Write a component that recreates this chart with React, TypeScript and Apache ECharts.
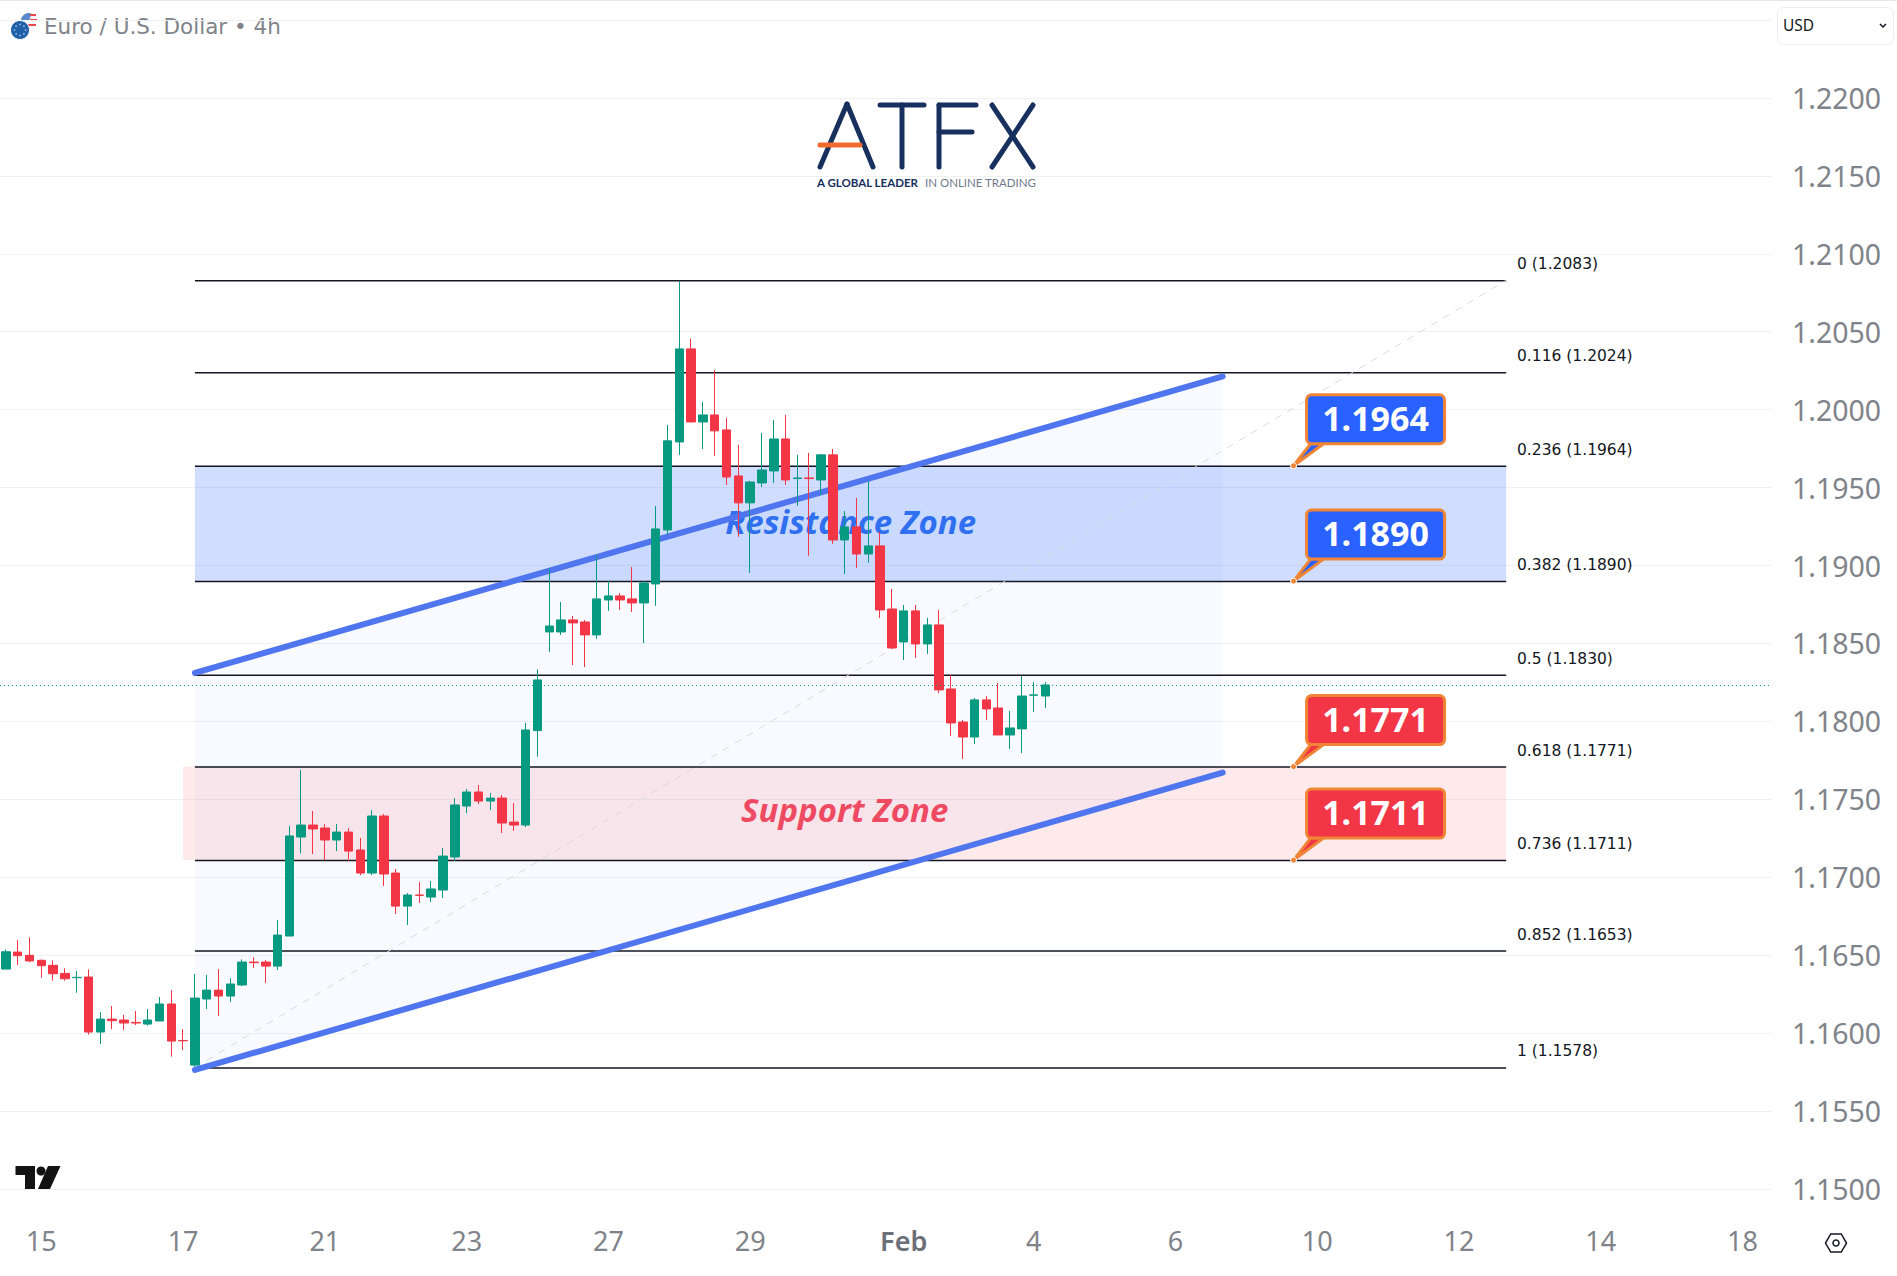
import React, { useEffect, useRef } from 'react';
import * as echarts from 'echarts';

// EUR/USD 4h candles
const opens = [
  1.16411, 1.1652, 1.16499, 1.16467, 1.16435, 1.16383, 1.16356, 1.1636, 1.16007, 1.1609,
  1.16084, 1.16069, 1.16058, 1.16078, 1.16187, 1.15953, 1.15795, 1.16219, 1.16276, 1.16238,
  1.16309, 1.16456, 1.16456, 1.1643, 1.16623, 1.17258, 1.17335, 1.17316, 1.17239, 1.1729,
  1.17175, 1.17027, 1.17393, 1.17027, 1.16815, 1.16886, 1.16873, 1.16918, 1.1713, 1.17457,
  1.17547, 1.17489, 1.17508, 1.17354, 1.17335, 1.17941, 1.18574, 1.18574, 1.18651, 1.18638,
  1.18555, 1.18779, 1.18805, 1.18786, 1.1876, 1.18882, 1.19228, 1.19793, 1.2039, 1.19921,
  1.19966, 1.1987, 1.19575, 1.19402, 1.1953, 1.19607, 1.19812, 1.19558, 1.19562, 1.19549,
  1.1971, 1.19164, 1.19248, 1.19074, 1.19126, 1.18721, 1.1851, 1.18709, 1.18497, 1.18619,
  1.18208, 1.17996, 1.179, 1.18138, 1.18086, 1.17913, 1.17952, 1.18168, 1.18163,
];
const closes = [
  1.16522, 1.16497, 1.16463, 1.16433, 1.16381, 1.16349, 1.16358, 1.16007, 1.1609, 1.1608,
  1.16065, 1.16065, 1.16084, 1.16187, 1.15949, 1.15951, 1.16225, 1.16276, 1.16238, 1.16315,
  1.16456, 1.16452, 1.1643, 1.16629, 1.17265, 1.17335, 1.1731, 1.17239, 1.1729, 1.17168,
  1.17027, 1.17393, 1.17021, 1.16815, 1.16886, 1.16884, 1.16925, 1.17136, 1.17464, 1.17547,
  1.17489, 1.17508, 1.17348, 1.17335, 1.17945, 1.18266, 1.18612, 1.18651, 1.18632, 1.18555,
  1.18786, 1.18805, 1.18779, 1.1876, 1.18888, 1.19235, 1.198, 1.2039, 1.19921, 1.19966,
  1.19864, 1.19568, 1.19402, 1.19536, 1.19613, 1.19812, 1.19549, 1.19562, 1.19558, 1.1971,
  1.19164, 1.19248, 1.19074, 1.19126, 1.18715, 1.18471, 1.18709, 1.18497, 1.18619, 1.18202,
  1.1799, 1.179, 1.18138, 1.1808, 1.17913, 1.17958, 1.18163, 1.1817, 1.18234,
];
const lows = [
  1.16411, 1.16437, 1.16456, 1.16356, 1.16336, 1.16336, 1.16259, 1.1599, 1.1593, 1.16026,
  1.1602, 1.16052, 1.16048, 1.16078, 1.15849, 1.15892, 1.15784, 1.16155, 1.1611, 1.16199,
  1.16302, 1.16418, 1.16321, 1.16405, 1.16623, 1.17153, 1.17149, 1.17111, 1.17168, 1.17104,
  1.17014, 1.17014, 1.16944, 1.16764, 1.16693, 1.16835, 1.16841, 1.16867, 1.17104, 1.17412,
  1.1747, 1.17431, 1.17284, 1.17297, 1.17322, 1.17774, 1.18446, 1.18555, 1.18362, 1.18349,
  1.18529, 1.18709, 1.18715, 1.18702, 1.18503, 1.18741, 1.19196, 1.1971, 1.19921, 1.19748,
  1.19703, 1.19517, 1.19184, 1.18952, 1.19504, 1.1953, 1.19517, 1.19382, 1.19062, 1.19453,
  1.19139, 1.18946, 1.18985, 1.19017, 1.18664, 1.18465, 1.18394, 1.18407, 1.18433, 1.18182,
  1.17906, 1.17759, 1.17855, 1.18009, 1.17913, 1.17823, 1.17797, 1.18061, 1.18086,
];
const highs = [
  1.16537, 1.16597, 1.16614, 1.16473, 1.16467, 1.16416, 1.16398, 1.16409, 1.16135, 1.16174,
  1.16116, 1.16142, 1.16155, 1.16232, 1.16276, 1.16026, 1.16379, 1.16373, 1.16411, 1.16353,
  1.16473, 1.16488, 1.16469, 1.16726, 1.17329, 1.17688, 1.17425, 1.17342, 1.17342, 1.17316,
  1.17252, 1.17431, 1.17406, 1.17053, 1.16899, 1.16969, 1.16976, 1.17188, 1.17508, 1.17566,
  1.17592, 1.17541, 1.17528, 1.17476, 1.1799, 1.18334, 1.18982, 1.18766, 1.18677, 1.18651,
  1.19068, 1.18901, 1.18824, 1.18991, 1.18901, 1.19382, 1.19902, 1.20824, 1.20454, 1.2005,
  1.20255, 1.19947, 1.19774, 1.19543, 1.19851, 1.19934, 1.19966, 1.1971, 1.19723, 1.19716,
  1.19748, 1.1935, 1.19434, 1.19543, 1.19216, 1.1885, 1.18747, 1.18747, 1.18664, 1.18715,
  1.18298, 1.18009, 1.1815, 1.18163, 1.18247, 1.18067, 1.18292, 1.18253, 1.18253,
];
const lastPrice = 1.18232;

const slotCount = 150;
const tickSlots = [3, 15, 27, 39, 51, 63, 76, 87, 99, 111, 123, 135, 147];
const tickLabels = ['15', '17', '21', '23', '27', '29', 'Feb', '4', '6', '10', '12', '14', '18'];

const fibRatios = ['0', '0.116', '0.236', '0.382', '0.5', '0.618', '0.736', '0.852', '1'];
const fibPrices = [1.2083, 1.2024, 1.1964, 1.189, 1.183, 1.1771, 1.1711, 1.1653, 1.1578];
const fibStart = 16;
const fibEnd = 127;

const upperChannel = [[16, 1.18311], [103, 1.20213]];
const lowerChannel = [[16, 1.15764], [103, 1.17672]];

const resistanceZone = [1.1964, 1.189];
const supportZone = [1.1771, 1.1711];

const calloutPrices = [1.1964, 1.189, 1.1771, 1.1711];
const calloutFills = ['#2962ff', '#2962ff', '#f23645', '#f23645'];
const calloutSlot = 109;

const UP = '#089981';
const DOWN = '#f23645';
const ORANGE = '#ef8535';
const NAVY = '#17305e';

const slots = Array.from({ length: slotCount }, (_, i) => {
  const at = tickSlots.indexOf(i);
  return at >= 0 ? tickLabels[at] : String(i);
});

function logoLine(x1: number, y1: number, x2: number, y2: number, stroke = NAVY) {
  return {
    type: 'line',
    shape: { x1, y1, x2, y2 },
    style: { stroke, lineWidth: 5, lineCap: 'round' },
  };
}

export default function App() {
  const elRef = useRef<HTMLDivElement | null>(null);

  useEffect(() => {
    if (!elRef.current) return;
    document.body.style.margin = '0';
    const chart = echarts.init(elRef.current, null, { renderer: 'svg' });

    const zones = {
      type: 'custom',
      z: 1,
      silent: true,
      data: [[0, 0]],
      renderItem: (_p: any, api: any) => {
        const [lx, ty1] = api.coord([fibStart, resistanceZone[0]]);
        const [rx, by1] = api.coord([fibEnd, resistanceZone[1]]);
        const [sx, ty2] = api.coord([15, supportZone[0]]);
        const by2 = api.coord([15, supportZone[1]])[1];
        const u0 = api.coord(upperChannel[0]);
        const u1 = api.coord(upperChannel[1]);
        const l0 = api.coord(lowerChannel[0]);
        const l1 = api.coord(lowerChannel[1]);
        return {
          type: 'group',
          children: [
            {
              type: 'polygon',
              shape: { points: [u0, u1, l1, l0] },
              style: { fill: 'rgba(41,98,255,0.03)' },
            },
            {
              type: 'rect',
              shape: { x: lx, y: ty1, width: rx - lx, height: by1 - ty1 },
              style: { fill: 'rgba(41,98,255,0.22)' },
            },
            {
              type: 'rect',
              shape: { x: sx, y: ty2, width: rx - sx, height: by2 - ty2 },
              style: { fill: 'rgba(242,54,69,0.105)' },
            },
          ],
        };
      },
    };

    const fibLines = {
      type: 'custom',
      z: 2,
      silent: true,
      data: fibPrices.map((p) => [fibStart, p]),
      renderItem: (params: any, api: any) => {
        const i = params.dataIndex;
        const [x1, y] = api.coord([fibStart, fibPrices[i]]);
        const x2 = api.coord([fibEnd, fibPrices[i]])[0];
        const tx = api.coord([fibEnd + 1, fibPrices[i]])[0];
        return {
          type: 'group',
          children: [
            {
              type: 'line',
              shape: { x1, y1: y + 0.5, x2, y2: y + 0.5 },
              style: { stroke: '#131722', lineWidth: 1.5 },
            },
            {
              type: 'text',
              style: {
                text: `${fibRatios[i]} (${fibPrices[i].toFixed(4)})`,
                x: tx - 1,
                y: y - 16,
                fill: '#131722',
                font: '15.5px "DejaVu Sans"',
                align: 'left',
                verticalAlign: 'middle',
              },
            },
          ],
        };
      },
    };

    const zoneLabels = {
      type: 'custom',
      z: 3,
      silent: true,
      data: [[0, 0]],
      renderItem: (_p: any, api: any) => {
        const r = api.coord([71, (resistanceZone[0] + resistanceZone[1]) / 2]);
        const s = api.coord([71, (supportZone[0] + supportZone[1]) / 2]);
        const font = 'italic bold 33px "Open Sans"';
        return {
          type: 'group',
          children: [
            {
              type: 'text',
              style: { text: 'Resistance Zone', x: r[0] + 6, y: r[1] - 2, fill: '#2f6ff0', font, align: 'center', verticalAlign: 'middle' },
            },
            {
              type: 'text',
              style: { text: 'Support Zone', x: s[0], y: s[1] - 4, fill: '#ee4a62', font, align: 'center', verticalAlign: 'middle' },
            },
          ],
        };
      },
    };

    const callouts = {
      type: 'custom',
      z: 6,
      silent: true,
      data: calloutPrices.map((p) => [calloutSlot, p]),
      renderItem: (params: any, api: any) => {
        const i = params.dataIndex;
        const fill = calloutFills[i];
        const [x, y] = api.coord([calloutSlot, calloutPrices[i]]);
        const bx = x + 13;
        const by = y - 71;
        const tail = [[x, y], [bx + 4, by + 49], [bx + 17, by + 49]];
        return {
          type: 'group',
          children: [
            {
              type: 'polygon',
              shape: { points: tail },
              style: { fill, stroke: ORANGE, lineWidth: 3, lineJoin: 'round' },
            },
            {
              type: 'rect',
              shape: { x: bx, y: by, width: 138, height: 49, r: 5 },
              style: { fill, stroke: ORANGE, lineWidth: 3 },
            },
            {
              type: 'circle',
              shape: { cx: x, cy: y, r: 3 },
              style: { fill: ORANGE, stroke: '#ffffff', lineWidth: 1 },
            },
            {
              type: 'text',
              style: {
                text: calloutPrices[i].toFixed(4),
                x: bx + 69,
                y: by + 23,
                fill: '#ffffff',
                font: 'bold 34px "Noto Sans"',
                align: 'center',
                verticalAlign: 'middle',
              },
            },
          ],
        };
      },
    };

    const trendLine = (data: number[][]) => ({
      type: 'line',
      z: 3,
      silent: true,
      data,
      showSymbol: false,
      lineStyle: { color: '#4f76ee', width: 6, cap: 'round' },
    });

    const hexagon = Array.from({ length: 6 }, (_, k) => {
      const a = (Math.PI / 3) * k;
      return [1836 + 10.5 * Math.cos(a), 1243 + 10.5 * Math.sin(a)];
    });
    const euStars = Array.from({ length: 8 }, (_, k) => {
      const a = (Math.PI / 4) * k;
      return {
        type: 'circle',
        shape: { cx: 20 + 5.5 * Math.cos(a), cy: 30 + 5.5 * Math.sin(a), r: 0.9 },
        style: { fill: '#8fb4e0' },
      };
    });

    const option: any = {
      animation: false,
      backgroundColor: '#ffffff',
      textStyle: { fontFamily: '"Noto Sans"' },
      grid: { left: 0, top: 20, width: 1772, height: 1169 },
      xAxis: {
        type: 'category',
        data: slots,
        axisLine: { show: false },
        axisTick: { show: false },
        splitLine: { show: false },
        axisLabel: {
          interval: (index: number) => tickSlots.includes(index),
          margin: 38,
          fontSize: 27,
          fontFamily: '"Noto Sans"',
          color: '#808389',
          hideOverlap: false,
          formatter: (v: string) => (v === 'Feb' ? `{bold|${v}}` : v),
          rich: {
            bold: { fontSize: 27, fontWeight: 600, fontFamily: '"Noto Sans"', color: '#6c6f78' },
          },
        },
      },
      yAxis: {
        type: 'value',
        position: 'right',
        min: 1.15,
        max: 1.225,
        interval: 0.005,
        axisLine: { show: false },
        axisTick: { show: false },
        splitLine: { lineStyle: { color: '#f0f1f3', width: 1 } },
        axisLabel: {
          margin: 20,
          fontSize: 28.5,
          fontFamily: '"Noto Sans"',
          color: '#808389',
          formatter: (v: number) => (Math.abs(v - 1.225) < 1e-6 ? '' : v.toFixed(4)),
        },
      },
      series: [
        zones,
        fibLines,
        {
          type: 'line',
          z: 2,
          silent: true,
          data: [[fibStart, fibPrices[8]], [fibEnd, fibPrices[0]]],
          showSymbol: false,
          lineStyle: { color: '#d8dade', width: 1, type: [7, 7] },
        },
        trendLine(upperChannel),
        trendLine(lowerChannel),
        zoneLabels,
        {
          type: 'candlestick',
          z: 4,
          silent: true,
          barWidth: 9,
          data: opens.map((o, i) => [o, closes[i], lows[i], highs[i]]),
          itemStyle: {
            color: UP,
            color0: DOWN,
            borderColor: UP,
            borderColor0: DOWN,
            borderWidth: 1,
          },
          markLine: {
            silent: true,
            symbol: 'none',
            precision: 5,
            label: { show: false },
            lineStyle: { color: UP, width: 1, type: [1, 3] },
            data: [{ yAxis: lastPrice }],
          },
        },
        callouts,
      ],
      graphic: [
        {
          type: 'line',
          silent: true,
          shape: { x1: 0, y1: 0.5, x2: 1897, y2: 0.5 },
          style: { stroke: '#e6e7ea', lineWidth: 1 },
        },
        // pair icon
        { type: 'circle', silent: true, shape: { cx: 29, cy: 21, r: 8 }, style: { fill: '#f4f5f8' } },
        { type: 'sector', silent: true, shape: { cx: 29, cy: 21, r: 8, startAngle: Math.PI, endAngle: Math.PI * 1.6 }, style: { fill: '#5b86c9' } },
        { type: 'line', silent: true, shape: { x1: 30, y1: 15, x2: 36, y2: 15 }, style: { stroke: '#e8474c', lineWidth: 2 } },
        { type: 'line', silent: true, shape: { x1: 30, y1: 20, x2: 37, y2: 20 }, style: { stroke: '#e8474c', lineWidth: 2 } },
        { type: 'line', silent: true, shape: { x1: 26, y1: 25, x2: 36, y2: 25 }, style: { stroke: '#e8474c', lineWidth: 2 } },
        { type: 'circle', silent: true, shape: { cx: 20, cy: 30, r: 9.5 }, style: { fill: '#1f5fa8', stroke: '#ffffff', lineWidth: 1 } },
        ...euStars,
        {
          type: 'text',
          silent: true,
          style: { text: 'Euro / U.S. Dollar • 4h', x: 44, y: 26, fill: '#808389', font: '21.5px "DejaVu Sans"', align: 'left', verticalAlign: 'middle' },
        },
        // currency box
        {
          type: 'rect',
          silent: true,
          shape: { x: 1777.5, y: 7.5, width: 116, height: 37, r: 6 },
          style: { fill: '#ffffff', stroke: '#ededf0', lineWidth: 1 },
        },
        {
          type: 'text',
          silent: true,
          style: { text: 'USD', x: 1783, y: 25, fill: '#131722', font: '15.5px "Noto Sans"', align: 'left', verticalAlign: 'middle' },
        },
        {
          type: 'polyline',
          silent: true,
          shape: { points: [[1880, 24], [1883, 27], [1886, 24]] },
          style: { stroke: '#131722', lineWidth: 1.5, fill: 'none' },
        },
        // logo
        logoLine(847, 104, 820, 167),
        logoLine(847, 104, 873, 167),
        logoLine(880, 105, 924, 105),
        logoLine(902, 105, 902, 167),
        logoLine(939, 105, 939, 167),
        logoLine(939, 105, 976, 105),
        logoLine(939, 132, 972, 132),
        logoLine(992, 105, 1033, 167),
        logoLine(1033, 105, 992, 167),
        logoLine(820, 145, 860, 145, '#f26a2e'),
        {
          type: 'text',
          silent: true,
          style: { text: 'A GLOBAL LEADER', x: 817, y: 182, fill: NAVY, font: 'bold 11.5px Lato', align: 'left', verticalAlign: 'middle' },
        },
        {
          type: 'text',
          silent: true,
          style: { text: 'IN ONLINE TRADING', x: 925, y: 182, fill: '#6f7a8c', font: '11.5px Lato', align: 'left', verticalAlign: 'middle' },
        },
        // TradingView mark
        {
          type: 'polygon',
          silent: true,
          shape: { points: [[15.5, 1166], [35, 1166], [35, 1189], [25, 1189], [25, 1175], [15.5, 1175]] },
          style: { fill: '#131313' },
        },
        { type: 'circle', silent: true, shape: { cx: 41, cy: 1171, r: 4.5 }, style: { fill: '#131313' } },
        {
          type: 'polygon',
          silent: true,
          shape: { points: [[48, 1166], [60.5, 1166], [50, 1189], [38, 1189]] },
          style: { fill: '#131313' },
        },
        // settings icon
        {
          type: 'polygon',
          silent: true,
          shape: { points: hexagon },
          style: { fill: 'none', stroke: '#131722', lineWidth: 1.5 },
        },
        {
          type: 'circle',
          silent: true,
          shape: { cx: 1836, cy: 1243, r: 3 },
          style: { fill: 'none', stroke: '#131722', lineWidth: 1.5 },
        },
      ],
    };

    chart.setOption(option);
    return () => chart.dispose();
  }, []);

  return <div ref={elRef} style={{ width: 1897, height: 1276 }} />;
}
